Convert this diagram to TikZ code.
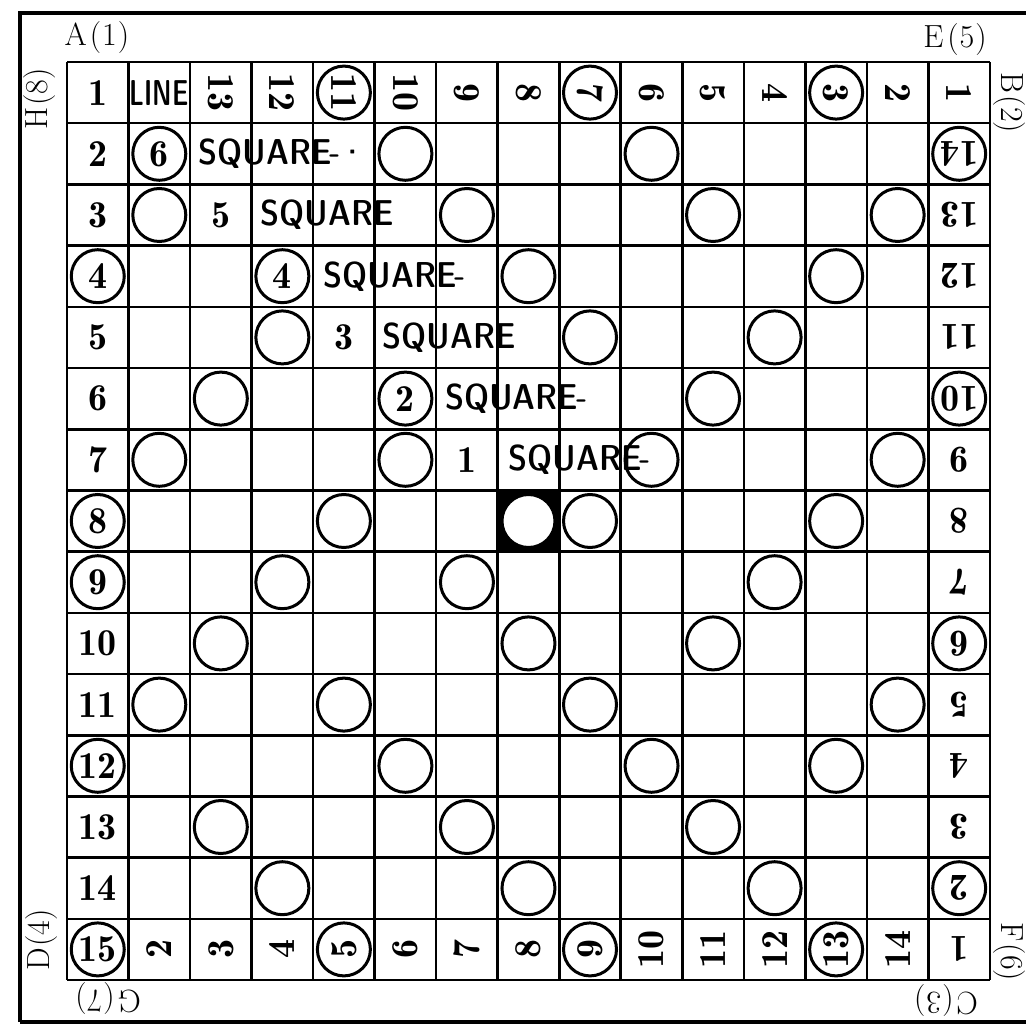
\documentclass[tikz,border=0pt]{standalone}
\usepackage{fontspec}
\usepackage{graphicx}
\newfontfamily\numfont{lmromandemi10-regular.otf}
\newfontfamily\wordfont{lmsansdemicond10-regular.otf}
\tikzset{
  gridline/.style={line width=1.3pt},
  framel/.style={line width=1.6pt},
  circ/.style={circle, draw, line width=1.5pt, minimum size=26.5pt, inner sep=0pt, fill=white},
  num/.style={font=\numfont\fontsize{19}{19}\selectfont, inner sep=0pt},
  lbl/.style={font=\fontsize{16}{16}\selectfont, inner sep=0pt},
  word/.style={font=\wordfont\fontsize{18}{18}\selectfont, inner sep=0pt, anchor=west},
}
\begin{document}
\begin{tikzpicture}[x=0.5pt,y=-0.5pt]
\useasboundingbox (0,0) rectangle (1026,1026);
\fill[white] (0,0) rectangle (1026,1026);
% outer frame
\draw[framel] (1026,13) -- (20,13) -- (20,1022);
\draw[line width=2.2pt] (20,1022) -- (1026,1022);
% outer labels
\node[lbl] (A) at (97,38) {A\kern1.5pt(\kern0.5pt1\kern0.5pt)};
\node[lbl] (E) at (955,40) {E\kern2pt(\kern0.5pt5\kern0.5pt)};
\node[lbl,rotate=-90] (B) at (1009,103) {B\kern1pt(2)};
\node[lbl,rotate=-90] (F) at (1009,952) {F\kern1pt(6)};
\node[lbl,rotate=180] (C) at (946,1000) {C\kern1.5pt(\kern0.5pt3\kern0.5pt)};
\node[lbl,rotate=180] (G) at (108,998) {G\kern1.5pt(\kern0.5pt7\kern0.5pt)};
\node[lbl,rotate=90] (D) at (42,940) {D\kern1pt(4)};
\node[lbl,rotate=90] (H) at (40,99) {H\kern1pt(8)};
\begin{scope}[shift={(36.235,31.4)}, x=30.765pt, y=-30.6pt]
  % black cell
  \fill[black] (7.5,7.5) rectangle (8.5,8.5);
  % grid
  \foreach \i in {0,...,15} {
    \draw[gridline] (\i+0.5,0.5) -- (\i+0.5,15.5);
    \draw[gridline] (0.5,\i+0.5) -- (15.5,\i+0.5);
  }
  % left column (upright)
  \foreach \r in {1,2,3,5,6,7,10,11,13,14} \node[num] (L\r) at (1,\r) {\r};
  \foreach \r in {4,8,9,12,15} \node[circ,num] (L\r) at (1,\r) {\r};
  % top row (rotated clockwise)
  \node[word,anchor=center] (LINE) at (2,1) {\scalebox{0.8}[1]{LINE}};
  \foreach \c in {3,4,6,7,8,10,11,12,14,15} {
    \pgfmathtruncatemacro\v{16-\c}
    \node[num,rotate=-90] (T\c) at (\c,1) {\v};
  }
  \foreach \c in {5,9,13} {
    \pgfmathtruncatemacro\v{16-\c}
    \node[circ,num,rotate=-90] (T\c) at (\c,1) {\v};
  }
  % right column (upside down)
  \foreach \r in {3,4,5,7,8,9,11,12,13,15} {
    \pgfmathtruncatemacro\v{16-\r}
    \node[num,rotate=180] (R\r) at (15,\r) {\v};
  }
  \foreach \r in {2,6,10,14} {
    \pgfmathtruncatemacro\v{16-\r}
    \node[circ,num,rotate=180] (R\r) at (15,\r) {\v};
  }
  % bottom row (rotated counter-clockwise)
  \foreach \c in {2,3,4,6,7,8,10,11,12,14} \node[num,rotate=90] (Bt\c) at (\c,15) {\c};
  \foreach \c in {5,9,13} \node[circ,num,rotate=90] (Bt\c) at (\c,15) {\c};
  % interior circles
  \foreach \c/\r in {6/2,10/2, 2/3,7/3,11/3,14/3, 8/4,13/4, 4/5,9/5,12/5,
                     3/6,11/6, 2/7,6/7,10/7,14/7, 5/8,8/8,9/8,13/8,
                     4/9,7/9,12/9, 3/10,8/10,11/10, 2/11,5/11,9/11,14/11,
                     6/12,10/12,13/12, 3/13,7/13,11/13, 4/14,8/14,12/14}
    \node[circ] (K\c-\r) at (\c,\r) {};
  % numbered interior circles
  \node[circ,num] (K2-2) at (2,2) {6};
  \node[circ,num] (K4-4) at (4,4) {4};
  \node[circ,num] (K6-6) at (6,6) {2};
  % interior numbers
  \node[num] (N3-3) at (3,3) {5};
  \node[num] (N5-5) at (5,5) {3};
  \node[num] (N7-7) at (7,7) {1};
  % SQUARE words
  \node[word] (S2) at (2.63,2) {SQUARE\kern-1pt-\kern-1pt·};
  \node[word] (S3) at (3.64,3) {SQUARE};
  \node[word] (S4) at (4.66,4) {SQUARE\kern-1pt-};
  \node[word] (S5) at (5.62,5) {SQUARE};
  \node[word] (S6) at (6.64,6) {SQUARE\kern-1pt-};
  \node[word] (S7) at (7.67,7) {SQUARE\kern-1pt-};
\end{scope}
\end{tikzpicture}
\end{document}
